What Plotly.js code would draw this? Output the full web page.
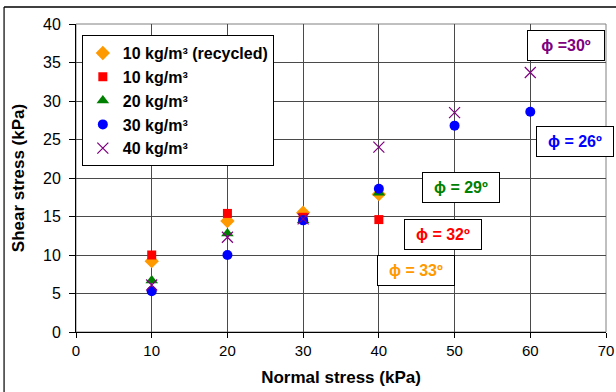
<!DOCTYPE html>
<html>
<head>
<meta charset="utf-8">
<script src="https://cdn.plot.ly/plotly-3.0.1.min.js"></script>
<style>html,body{margin:0;padding:0;background:#fff;}#chart{width:616px;height:392px;}</style>
</head>
<body>
<div id="chart"></div>
<script>
const seriesNames = ["10 kg/m³ (recycled)", "10 kg/m³", "20 kg/m³", "30 kg/m³", "40 kg/m³"];
const normalStress4 = [10, 20, 30, 40];
const normalStress6 = [10, 20, 30, 40, 50, 60];
const shear10Recycled = [9.2, 14.4, 15.5, 17.9];
const shear10 = [10.0, 15.4, 14.9, 14.6];
const shear20 = [6.7, 12.8, 14.5, 18.1];
const shear30 = [5.3, 10.0, 14.5, 18.6, 26.8, 28.6];
const shear40 = [6.1, 12.3, 14.7, 24.0, 28.5, 33.7];
const phiLabels = ["ϕ =30º", "ϕ = 26º", "ϕ = 29º", "ϕ = 32º", "ϕ = 33º"];

const colors = ["#FF9900", "#FF0000", "#008000", "#0000FF", "#800080"];
const FONT = "Liberation Sans, Arial, sans-serif";

function tr(i, x, y, symbol, size) {
  return {
    type: "scatter", mode: "markers", name: seriesNames[i], x: x, y: y,
    legendgroup: "g" + i,
    marker: { symbol: symbol, size: size, color: colors[i], line: { width: 0 } },
    cliponaxis: false
  };
}

const data = [
  tr(0, normalStress4, shear10Recycled, "diamond", 11),
  tr(1, normalStress4, shear10, "square", 9),
  tr(2, normalStress4, shear20, "triangle-up", 11),
  tr(3, normalStress6, shear30, "circle", 10),
  tr(4, normalStress6, shear40, "x-thin-open", 11),
];
data[4].marker.line = { width: 1.2, color: colors[4] };

const annPos = [[0.924, 0.929], [0.941, 0.617], [0.726, 0.468], [0.692, 0.315], [0.641, 0.201]];
const annColors = [colors[4], colors[3], colors[2], colors[1], colors[0]];
const annotations = phiLabels.map((t, i) => ({
  xref: "paper", yref: "paper", x: annPos[i][0], y: annPos[i][1],
  xanchor: "center", yanchor: "middle", showarrow: false,
  text: "<b>" + t + "</b>",
  font: { family: FONT, size: 16, color: annColors[i] },
  bgcolor: "#ffffff", bordercolor: "#000000", borderwidth: 1,
  width: 74, height: 27, borderpad: 1
}));

const layout = {
  width: 616, height: 392,
  margin: { l: 76, r: 9.5, t: 24, b: 60 },
  paper_bgcolor: "#ffffff", plot_bgcolor: "#ffffff",
  font: { family: FONT, size: 15, color: "#000" },
  showlegend: true,
  legend: {
    x: 0.011, y: 0.964, xanchor: "left", yanchor: "top",
    bgcolor: "#ffffff", bordercolor: "#000000", borderwidth: 1,
    font: { family: FONT, size: 16, color: "#000", weight: "bold" },
    tracegroupgap: 2, itemwidth: 30,
    traceorder: "normal"
  },
  xaxis: {
    range: [0, 70], dtick: 10, tick0: 0,
    showgrid: true, gridcolor: "#4a4a4a", gridwidth: 1,
    showline: true, linecolor: "#000", linewidth: 1,
    ticks: "outside", ticklen: 5, tickcolor: "#000",
    tickfont: { family: FONT, size: 15 },
    zeroline: false,
    title: { text: "<b>Normal stress (kPa)</b>", font: { family: FONT, size: 17 }, standoff: 13 }
  },
  yaxis: {
    range: [0, 40], dtick: 5, tick0: 0,
    showgrid: true, gridcolor: "#4a4a4a", gridwidth: 1,
    showline: true, linecolor: "#000", linewidth: 1,
    ticks: "outside", ticklen: 6, tickcolor: "#000",
    tickfont: { family: FONT, size: 16 },
    ticklabelstandoff: 5,
    zeroline: false,
    title: { text: "<b>Shear stress (kPa)</b>", font: { family: FONT, size: 17 }, standoff: 14 }
  },
  annotations: annotations,
  shapes: [
    { type: "rect", xref: "paper", yref: "paper", x0: 0, x1: 1, y0: 0, y1: 1,
      line: { color: "#808080", width: 1 }, layer: "below" },
    { type: "line", xref: "paper", yref: "paper", x0: -0.1357, x1: -0.1357, y0: -0.3, y1: 1.0552,
      line: { color: "#333", width: 1.5 } },
    { type: "line", xref: "paper", yref: "paper", x0: -0.1357, x1: 1.1, y0: 1.0552, y1: 1.0552,
      line: { color: "#000", width: 1.5 } }
  ]
};

Plotly.newPlot("chart", data, layout, { staticPlot: true, displayModeBar: false });
</script>
</body>
</html>
